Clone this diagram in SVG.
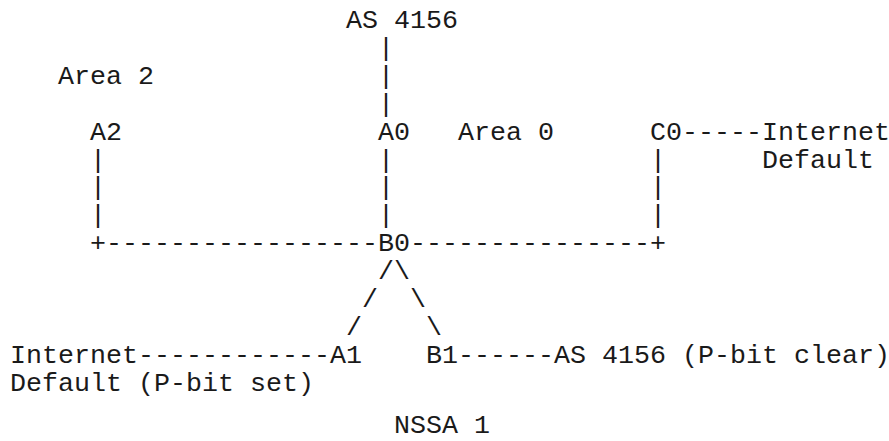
<svg xmlns="http://www.w3.org/2000/svg" width="889" height="441" viewBox="0 0 889 441">
<style>
text{font-family:"Liberation Mono","Courier New",monospace;font-size:26.67px;fill:#1a1a1a;white-space:pre}
</style>
<rect width="889" height="441" fill="#fff"/>
<g id="connectors">
<text x="378" y="55.9">|</text>
<text x="378" y="83.8">|</text>
<text x="378" y="111.7">|</text>
<text x="682" y="139.6">-----</text>
<text x="90" y="167.5">|</text><text x="378" y="167.5">|</text><text x="650" y="167.5">|</text>
<text x="90" y="195.4">|</text><text x="378" y="195.4">|</text><text x="650" y="195.4">|</text>
<text x="90" y="223.3">|</text><text x="378" y="223.3">|</text><text x="650" y="223.3">|</text>
<text x="90" y="251.2">+</text><text x="106" y="251.2">-----------------</text>
<text x="410" y="251.2">---------------</text><text x="650" y="251.2">+</text>
<text x="378" y="279.1">/</text><text x="394" y="279.1">\</text>
<text x="362" y="307">/</text><text x="410" y="307">\</text>
<text x="346" y="334.9">/</text><text x="426" y="334.9">\</text>
<text x="138" y="362.8">------------</text>
<text x="458" y="362.8">------</text>
</g>
<g id="as4156-top"><text x="346" y="28">AS 4156</text></g>
<g id="area2"><text x="58" y="83.8">Area 2</text></g>
<g id="a2"><text x="90" y="139.6">A2</text></g>
<g id="a0"><text x="378" y="139.6">A0</text></g>
<g id="area0"><text x="458" y="139.6">Area 0</text></g>
<g id="c0"><text x="650" y="139.6">C0</text></g>
<g id="internet-default-top"><text x="762" y="139.6">Internet</text><text x="762" y="167.5">Default</text></g>
<g id="b0"><text x="378" y="251.2">B0</text></g>
<g id="internet-default-bottom"><text x="10" y="362.8">Internet</text><text x="10" y="390.7">Default (P-bit set)</text></g>
<g id="a1"><text x="330" y="362.8">A1</text></g>
<g id="b1"><text x="426" y="362.8">B1</text></g>
<g id="as4156-bottom"><text x="554" y="362.8">AS 4156 (P-bit clear)</text></g>
<g id="nssa1"><text x="394" y="433">NSSA 1</text></g>
</svg>
